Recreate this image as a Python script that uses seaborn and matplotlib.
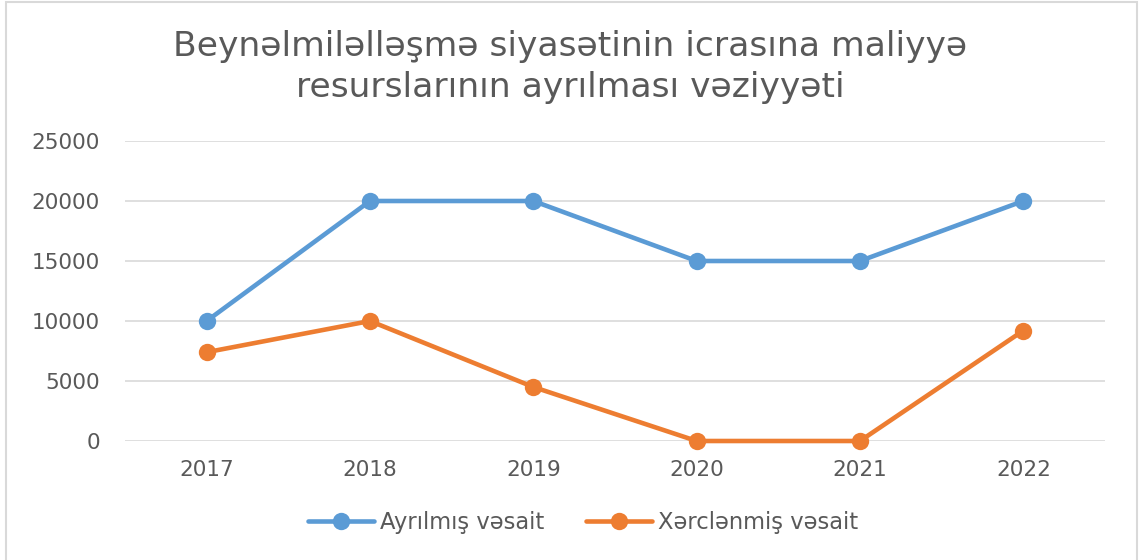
import matplotlib
matplotlib.use("Agg")
import matplotlib.pyplot as plt
import seaborn as sns
import pandas as pd
from matplotlib.patches import Rectangle
from matplotlib.lines import Line2D

years = ["2017", "2018", "2019", "2020", "2021", "2022"]
allocated = [10000, 20000, 20000, 15000, 15000, 20000]
spent = [7400, 10000, 4500, 0, 0, 9200]
series_names = ["Ayrılmış vəsait", "Xərclənmiş vəsait"]
title = "Beynəlmiləlləşmə siyasətinin icrasına maliyyə\nresurslarının ayrılması vəziyyəti"
yticks = [0, 5000, 10000, 15000, 20000, 25000]

df = pd.DataFrame({
    "year": years * 2,
    "value": allocated + spent,
    "series": [series_names[0]] * len(years) + [series_names[1]] * len(years),
})

sns.set_theme(style="white")
plt.rcParams["font.family"] = ["DejaVu Sans"]

fig = plt.figure(figsize=(11.39, 5.6), dpi=100)
ax = fig.add_axes([125/1139, 1-441/560, (1105-125)/1139, (441-141)/560])

palette = {series_names[0]: "#5B9BD5", series_names[1]: "#ED7D31"}
sns.lineplot(data=df, x="year", y="value", hue="series", palette=palette,
             marker="o", markersize=12.5, markeredgewidth=0, linewidth=3.3,
             sort=False, ax=ax, clip_on=False, legend=False)

ax.set_xlim(-0.5, 5.5)
ax.set_ylim(0, 25000)
ax.set_yticks(yticks)
ax.set_yticklabels([str(t) for t in yticks])
ax.grid(axis="y", color="#d9d9d9", linewidth=1.2)
ax.set_axisbelow(True)
for s in ax.spines.values():
    s.set_visible(False)
ax.tick_params(axis="both", length=0, labelsize=15.5, colors="#595959")
ax.tick_params(axis="y", pad=18)
ax.tick_params(axis="x", pad=14)
ax.set_xlabel("")
ax.set_ylabel("")

fig.text(570/1139, 1-67/560, title, ha="center", va="center", fontsize=24.8,
         color="#595959", linespacing=1.32)

handles = [Line2D([], [], color=palette[n], marker="o", markersize=12.5,
                  markeredgewidth=0, linewidth=3.3) for n in series_names]
leg = fig.legend(handles, series_names, loc="center", bbox_to_anchor=(583/1139, 1-522/560),
                 ncol=2, frameon=False, fontsize=16.3, handlelength=2.9,
                 columnspacing=1.85, handletextpad=0.27)
for t in leg.get_texts():
    t.set_color("#595959")

fig.patches.append(Rectangle((6/1139, -0.05), (1137-6)/1139, 1.05-2/560,
                             transform=fig.transFigure, fill=False,
                             edgecolor="#d9d9d9", linewidth=1.5))

fig.savefig("out.png", dpi=100)
